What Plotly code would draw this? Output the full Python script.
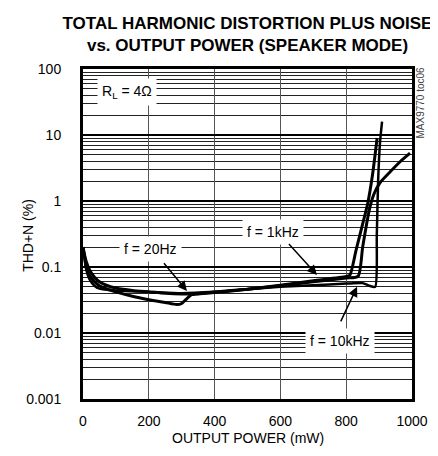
import math
import plotly.graph_objects as go

# ---- data ----
p_20hz = [0, 5, 10, 20, 35, 50, 75, 100, 150, 200, 250, 285, 300, 315, 330, 360, 400, 500, 600, 700, 800, 836, 850, 862, 872, 885, 903, 933, 963, 994]
thd_20hz = [0.2, 0.14, 0.1, 0.075, 0.06, 0.052, 0.046, 0.042, 0.036, 0.032, 0.029, 0.027, 0.028, 0.033, 0.038, 0.04, 0.042, 0.046, 0.052, 0.06, 0.068, 0.072, 0.2, 0.45, 0.8, 1.3, 1.9, 2.75, 3.9, 5.3]

p_1khz = [0, 5, 10, 20, 35, 50, 75, 100, 150, 200, 250, 300, 350, 400, 500, 600, 700, 800, 811, 830, 850, 865, 880, 894]
thd_1khz = [0.2, 0.15, 0.12, 0.09, 0.07, 0.06, 0.052, 0.048, 0.044, 0.042, 0.04, 0.039, 0.039, 0.041, 0.046, 0.053, 0.062, 0.072, 0.075, 0.18, 0.45, 0.9, 2.5, 9.0]

p_10khz = [0, 5, 10, 20, 35, 50, 100, 200, 300, 400, 500, 600, 700, 800, 850, 870, 888, 893, 897, 903, 909]
thd_10khz = [0.2, 0.13, 0.09, 0.065, 0.052, 0.047, 0.044, 0.042, 0.04, 0.042, 0.046, 0.05, 0.053, 0.056, 0.057, 0.052, 0.05, 0.3, 2.0, 8.0, 16.0]

x_ticks = [0, 200, 400, 600, 800, 1000]
y_ticks = [0.001, 0.01, 0.1, 1, 10, 100]
y_tick_labels = ["0.001", "0.01", "0.1", "1", "10", "100"]

FONT = "Liberation Sans, Arial, sans-serif"

fig = go.Figure()
for px_, ty_, w in [(p_20hz, thd_20hz, 3), (p_1khz, thd_1khz, 3), (p_10khz, thd_10khz, 2.5)]:
    fig.add_trace(go.Scatter(x=px_, y=ty_, mode="lines",
                             line=dict(color="black", width=w, shape="spline", smoothing=0.6),
                             showlegend=False, hoverinfo="skip"))

# page body adds an 8px offset; figure is sized to fill the rest of the window
fig.update_layout(
    width=430, height=448,
    margin=dict(l=75, r=26, t=61, b=57, autoexpand=False),
    paper_bgcolor="white", plot_bgcolor="white",
    font=dict(family=FONT, size=14, color="black"),
    title=dict(text="<b>TOTAL HARMONIC DISTORTION PLUS NOISE<br>vs. OUTPUT POWER (SPEAKER MODE)</b>",
               x=0.5, xref="paper", xanchor="center",
               y=1 - 21 / 448, yref="container", yanchor="middle",
               font=dict(family=FONT, size=17, color="black")),
)

fig.update_xaxes(
    range=[0, 1000], tickvals=x_ticks, ticks="outside", ticklen=7,
    tickcolor="rgba(0,0,0,0)",
    showgrid=True, gridcolor="#555", gridwidth=1,
    showline=True, linecolor="black", linewidth=3, mirror=True,
    zeroline=False, automargin=False,
    tickfont=dict(size=14),
)
fig.update_yaxes(
    type="log", range=[-3, 2], tickvals=y_ticks, ticktext=y_tick_labels,
    ticks="outside", ticklen=16, tickcolor="rgba(0,0,0,0)",
    showgrid=True, gridcolor="black", gridwidth=1.5,
    minor=dict(dtick="D1", showgrid=True, gridcolor="#222", gridwidth=1, ticks=""),
    showline=True, linecolor="black", linewidth=3, mirror=True,
    zeroline=False, automargin=False,
    tickfont=dict(size=14),
)

# axis titles
fig.add_annotation(xref="paper", yref="paper", x=0.5, y=-0.148, text="OUTPUT POWER (mW)",
                   showarrow=False, font=dict(size=14, family=FONT))
fig.add_annotation(xref="paper", yref="paper", x=-0.198, y=0.497, text="THD+N (%)",
                   textangle=-90, showarrow=False, font=dict(size=14, family=FONT))

# text labels (annotation y on a log axis is given in log10 units)
labels = [
    ("R<sub>L</sub> = 4Ω", 134, 44.9),
    ("f = 20Hz", 204, 0.1875),
    ("f = 1kHz", 578, 0.339),
    ("f = 10kHz", 781, 0.00757),
]
for txt, x, y in labels:
    fig.add_annotation(x=x, y=math.log10(y), text=txt, showarrow=False, bgcolor="white",
                       borderpad=4, font=dict(size=14, family=FONT))

# arrows
arrows = [(316, 0.0433, -24, -29), (711, 0.0757, -29, -32), (833, 0.05, -17, 36)]
for x, y, ax, ay in arrows:
    fig.add_annotation(x=x, y=math.log10(y), text=" ", showarrow=True, ax=ax, ay=ay,
                       arrowhead=2, arrowsize=1.3, arrowwidth=1.5, arrowcolor="black",
                       standoff=0, borderpad=0, font=dict(size=2))

fig.add_annotation(xref="paper", yref="paper", x=1.026, y=0.897, text="MAX9770 toc06",
                   textangle=-90, showarrow=False, xanchor="center", yanchor="middle",
                   font=dict(size=10, color="#444", family=FONT))

fig.write_html("out.html")
